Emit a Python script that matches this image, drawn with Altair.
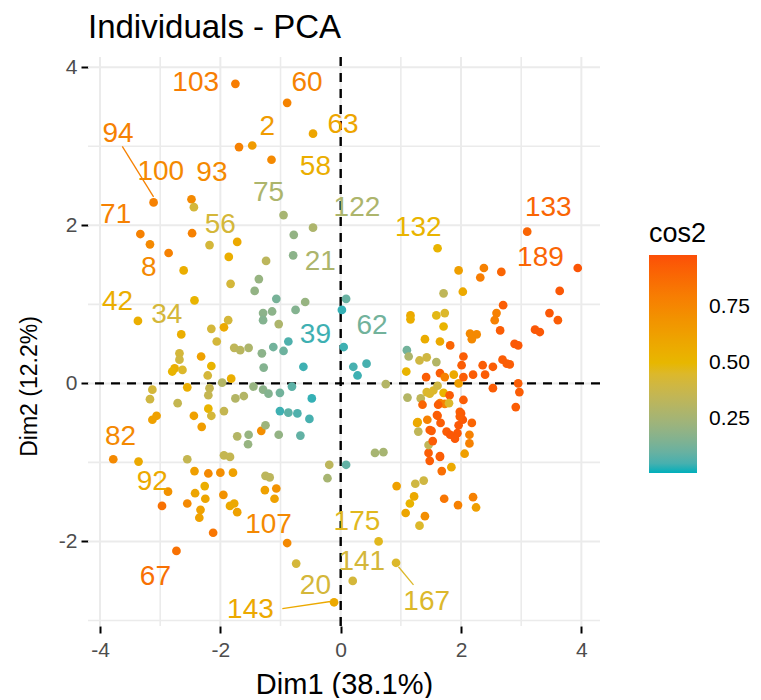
import altair as alt
import pandas as pd

# ---- individuals (Dim1, Dim2, cos2) ----
dim1 = [-1.75, -0.89, -0.46, -1.47, -1.69, -1.15, -3.11, -2.48, -2.44, -0.95, -0.46, -0.78,
        -3.33, -2.47, -1.72, -3.17, -2.18, -1.86, -2.86, -2.61, -1.24, -0.79, 1.61, 3.10,
        -1.36, -1.83, -1.43, -1.07, -0.59, -0.75, 0.09, 0.02, -3.37, -2.43, -1.29, -1.14,
        -1.29, -1.03, -1.87, -1.94, -2.15, -2.65, -0.87, -2.06, -1.77, -1.67, -1.53, -1.12,
        -0.95, -1.31, 0.05, -2.68, -2.68, -2.76, -2.80, -2.63, -2.32, -2.15, -2.21, -1.82,
        -1.28, -0.62, 0.21, 0.28, 0.43,
        -3.13, -3.17, -2.55, -2.18, -2.20, -1.97, -1.75, -1.61, -1.45, -1.29, -1.20, -1.01,
        -0.81, -0.48, -2.71, -3.06, -2.44, -2.20, -2.15, -1.94, -1.01, -0.87, -0.72, -0.52,
        -3.13, -2.31, -1.32, -1.25, -1.72, -1.53, -1.54, -1.03, -0.67, -3.78, -3.36, -2.55,
        -1.94, -1.84, -2.43, -2.20, -2.00, -1.79, -1.25, -1.18, -0.19, -0.22, 0.09, -2.87,
        -2.26, -2.42, -2.25, -1.95, -1.26, -1.07, -1.10, -2.97, -2.55, -2.33, -2.35, -1.84,
        -1.77, -1.72, -2.12, -0.89, -2.73, -0.74, -0.11, 0.63, 0.20, 0.92,
        0.57, 0.71, 0.93, 1.24, 1.38, 1.22, 1.15, 1.08, 1.40, 1.31, 1.72, 1.95, 2.20, 2.25,
        1.68, 1.84, 2.06, 1.48, 1.65, 1.46, 1.46, 1.53, 1.29, 1.27, 1.44, 1.51, 1.61, 1.66,
        1.76, 1.82, 1.90, 1.94, 1.96, 2.00, 2.03, 2.18, 2.14, 2.14, 2.91,
        3.94, 3.64, 3.47, 3.61, 3.23, 3.31, 2.89, 2.95, 2.70, 2.59, 2.56, 2.65, 2.67, 2.38,
        2.32, 1.96, 2.03, 1.71, 1.59, 1.73, 1.71, 1.16, 1.16, 2.15, 2.26, 2.18, 1.40, 1.65,
        1.82, 1.10, 1.13, 1.31, 1.43, 1.59, 2.04, 2.01, 2.36, 2.53, 2.69, 2.76, 2.81, 1.09,
        0.75, 1.42, 1.65, 1.73, 1.88, 1.96, 2.04, 2.20, 2.40, 2.53, 2.95, 2.97, 1.11, 1.33,
        1.43, 1.48, 1.54, 1.61, 1.71, 1.81, 2.04, 1.36, 1.65, 1.73, 1.80, 1.98, 1.98, 1.60,
        1.28, 1.62, 1.48, 1.65]
dim2 = [3.79, 3.55, 3.16, 3.01, 2.99, 2.83, 2.29, 2.33, 2.23, 2.13, 1.97, 1.88,
        1.89, 1.90, 1.79, 1.76, 1.75, 1.60, 1.65, 1.43, 1.55, 1.62, 1.71, 1.92,
        1.32, 1.26, 1.17, 1.07, 1.03, 0.93, 1.07, 0.93, 0.79, 1.05, 0.89, 0.91,
        0.80, 0.75, 0.80, 0.71, 0.69, 0.62, 0.53, 0.53, 0.45, 0.42, 0.45, 0.46,
        0.41, 0.38, 0.46, 0.38, 0.30, 0.19, 0.15, 0.17, 0.34, 0.22, 0.10, 0.06,
        0.20, 0.21, 0.21, 0.10, 0.25,
        -0.08, -0.20, -0.05, -0.06, -0.15, 0.01, -0.19, -0.16, -0.04, -0.08, -0.13, -0.12,
        -0.04, -0.19, -0.25, -0.41, -0.41, -0.32, -0.41, -0.35, -0.35, -0.37, -0.38, -0.45,
        -0.46, -0.55, -0.60, -0.53, -0.67, -0.65, -0.77, -0.65, -0.66, -0.96, -0.99, -0.96,
        -0.91, -0.93, -1.11, -1.14, -1.13, -1.13, -1.17, -1.19, -1.03, -1.20, -1.03, -1.37,
        -1.30, -1.39, -1.46, -1.41, -1.35, -1.33, -1.46, -1.55, -1.52, -1.60, -1.70, -1.55,
        -1.52, -1.63, -1.89, -2.02, -2.12, -2.28, -2.77, -2.00, -2.50, -2.27,
        -0.88, -0.87, -1.30, -1.27, -1.23, -1.43, -1.52, -1.64, -1.68, -1.80, -1.46, -1.54, -1.44, -1.57,
        -1.11, -1.06, -0.89, -0.98, -0.93, -0.88, -0.78, -0.73, -0.61, -0.50, -0.46, -0.60, -0.41, -0.50,
        -0.61, -0.65, -0.70, -0.63, -0.53, -0.38, -0.46, -0.50, -0.65, -0.76, -0.30,
        1.46, 1.17, 0.89, 0.80, 0.68, 0.65, 0.50, 0.48, 0.99, 0.89, 0.80, 0.67, 1.41, 1.46,
        1.34, 1.43, 1.16, 1.14, 0.86, 0.89, 0.72, 0.86, 0.81, 0.63, 0.62, 0.56, 0.56, 0.53,
        0.48, 0.42, 0.34, 0.29, 0.33, 0.27, 0.34, 0.23, 0.23, 0.21, 0.30, 0.25, 0.24, 0.15,
        -0.01, 0.08, 0.13, 0.08, 0.11, 0.00, 0.08, 0.11, 0.11, -0.06, 0.00, -0.11, -0.18, -0.19,
        -0.11, -0.13, -0.09, -0.03, -0.12, -0.15, -0.21, -0.27, -0.25, -0.26, -0.25, -0.36, -0.42, -0.40,
        -0.49, -0.27, -0.59, -0.92]
cos2 = [0.80, 0.77, 0.60, 0.65, 0.78, 0.74, 0.78, 0.74, 0.42, 0.26, 0.28, 0.20,
        0.78, 0.78, 0.58, 0.74, 0.42, 0.55, 0.78, 0.55, 0.33, 0.18, 0.52, 0.90,
        0.21, 0.42, 0.20, 0.13, 0.21, 0.16, 0.10, 0.03, 0.55, 0.52, 0.18, 0.18,
        0.16, 0.28, 0.42, 0.58, 0.42, 0.55, 0.06, 0.42, 0.34, 0.32, 0.28, 0.12,
        0.11, 0.18, 0.04, 0.42, 0.40, 0.55, 0.52, 0.45, 0.62, 0.52, 0.42, 0.55,
        0.16, 0.04, 0.05, 0.04, 0.05,
        0.42, 0.40, 0.55, 0.36, 0.36, 0.30, 0.30, 0.30, 0.21, 0.18, 0.16, 0.12,
        0.08, 0.03, 0.36, 0.62, 0.62, 0.52, 0.42, 0.36, 0.04, 0.08, 0.06, 0.05,
        0.62, 0.64, 0.72, 0.23, 0.30, 0.21, 0.21, 0.20, 0.09, 0.74, 0.58, 0.36,
        0.36, 0.36, 0.63, 0.74, 0.72, 0.62, 0.33, 0.33, 0.33, 0.26, 0.09, 0.70,
        0.55, 0.60, 0.60, 0.70, 0.62, 0.70, 0.62, 0.85, 0.74, 0.62, 0.62, 0.58,
        0.58, 0.62, 0.83, 0.74, 0.85, 0.42, 0.58, 0.47, 0.42, 0.45,
        0.26, 0.26, 0.62, 0.40, 0.40, 0.58, 0.52, 0.60, 0.72, 0.45, 0.83, 0.78, 0.78, 0.63,
        0.86, 0.58, 0.63, 0.93, 0.93, 0.93, 0.34, 0.93, 0.34, 0.58, 0.78, 0.93, 0.93, 0.93,
        0.93, 0.95, 0.95, 0.95, 0.95, 0.95, 0.95, 0.90, 0.78, 0.78, 0.93,
        0.96, 0.95, 0.95, 0.93, 0.95, 0.95, 0.95, 0.95, 0.93, 0.78, 0.78, 0.93, 0.90, 0.78,
        0.80, 0.63, 0.58, 0.34, 0.48, 0.45, 0.52, 0.58, 0.55, 0.74, 0.74, 0.74, 0.56, 0.58,
        0.90, 0.12, 0.28, 0.40, 0.40, 0.30, 0.93, 0.93, 0.93, 0.93, 0.93, 0.93, 0.93, 0.52,
        0.30, 0.93, 0.93, 0.78, 0.58, 0.63, 0.93, 0.93, 0.93, 0.93, 0.93, 0.93, 0.30, 0.34,
        0.45, 0.45, 0.45, 0.40, 0.52, 0.93, 0.93, 0.90, 0.78, 0.78, 0.45, 0.93, 0.93, 0.93,
        0.58, 0.93, 0.93, 0.93]

# ---- labelled individuals (text position, label, cos2) ----
lab_text = ["103", "60", "2", "63", "94", "100", "93", "58", "75", "122", "71", "56",
            "132", "133", "189", "8", "21", "42", "34", "39", "62", "82", "92", "107",
            "175", "67", "141", "20", "143", "167"]
lab_x = [-2.41, -0.56, -1.22, 0.04, -3.70, -2.99, -2.14, -0.42, -1.20, 0.27, -3.74, -2.00,
         1.29, 3.45, 3.32, -3.19, -0.34, -3.71, -2.89, -0.42, 0.52, -3.66, -3.13, -1.20,
         0.27, -3.08, 0.35, -0.42, -1.50, 1.43]
lab_y = [3.80, 3.80, 3.24, 3.27, 3.16, 2.67, 2.66, 2.74, 2.41, 2.22, 2.13, 2.00,
         1.96, 2.22, 1.59, 1.46, 1.54, 1.03, 0.87, 0.61, 0.73, -0.68, -1.25, -1.79,
         -1.75, -2.45, -2.26, -2.57, -2.87, -2.76]
lab_cos2 = [0.80, 0.77, 0.65, 0.60, 0.78, 0.74, 0.74, 0.55, 0.28, 0.28, 0.78, 0.42,
            0.52, 0.90, 0.90, 0.74, 0.28, 0.55, 0.42, 0.04, 0.12, 0.74, 0.58, 0.74,
            0.47, 0.85, 0.42, 0.42, 0.58, 0.45]

# ---- repel leader segments ----
seg_x = [-3.63, -0.97, 0.96]
seg_y = [3.00, -2.85, -2.32]
seg_x2 = [-3.11, -0.17, 1.21]
seg_y2 = [2.36, -2.76, -2.55]
seg_cos2 = [0.78, 0.58, 0.45]

# ---- axes / grid ----
x_major = [-4, -2, 0, 2, 4]
x_minor = [-3, -1, 1, 3]
y_major = [-2, 0, 2, 4]
y_minor = [-3, -1, 1, 3]
x_domain = [-4.2, 4.31]
y_domain = [-3.07, 4.13]

grad_cols = ["#00AFBB", "#E7B800", "#FC4E07"]
cos2_dom = [0.007, 0.495, 0.983]

FONT = "Liberation Sans"

pts = pd.DataFrame({"x": dim1, "y": dim2, "cos2": cos2})
labs = pd.DataFrame({"x": lab_x, "y": lab_y, "cos2": lab_cos2, "t": lab_text})
segs = pd.DataFrame({"x": seg_x, "y": seg_y, "x2": seg_x2, "y2": seg_y2, "cos2": seg_cos2})
gx_major = pd.DataFrame({"v": x_major})
gx_minor = pd.DataFrame({"v": x_minor})
gy_major = pd.DataFrame({"v": y_major})
gy_minor = pd.DataFrame({"v": y_minor})
zero = pd.DataFrame({"v": [0]})

xs = alt.Scale(domain=x_domain, nice=False, zero=False)
ys = alt.Scale(domain=y_domain, nice=False, zero=False)
cscale = alt.Scale(domain=cos2_dom, range=grad_cols, interpolate="lab")
legend = alt.Legend(
    type="gradient", title="cos2", orient="none", legendX=561, legendY=164,
    direction="vertical", gradientLength=218, gradientThickness=48,
    gradientStrokeWidth=0, values=[0.25, 0.5, 0.75], format=".2f",
    labelFont=FONT, labelFontSize=21, labelColor="#000000", labelOffset=12,
    titleFont=FONT, titleFontSize=27, titleFontWeight="normal",
    titleColor="#000000", titlePadding=7, labelOverlap=False,
)
color = alt.Color("cos2:Q", scale=cscale, legend=legend)
color_noleg = alt.Color("cos2:Q", scale=cscale, legend=None)

x_axis = alt.Axis(values=x_major, labelExpr="'' + datum.value", title="Dim1 (38.1%)",
                  grid=False, domain=False, tickColor="#000000", tickWidth=2, tickSize=7,
                  labelFont=FONT, labelFontSize=21, labelColor="#4D4D4D", labelPadding=6,
                  titleFont=FONT, titleFontSize=29, titleFontWeight="normal",
                  titleColor="#000000", titleY=58, titleBaseline="middle")
y_axis = alt.Axis(values=y_major, labelExpr="'' + datum.value", title="Dim2 (12.2%)",
                  grid=False, domain=False, tickColor="#000000", tickWidth=2, tickSize=7,
                  labelFont=FONT, labelFontSize=21, labelColor="#4D4D4D", labelPadding=4,
                  titleFont=FONT, titleFontSize=23, titleFontWeight="normal",
                  titleColor="#000000", titleX=-59, titleY=329, titleAngle=270,
                  titleAlign="center", titleBaseline="middle")

gxM = alt.Chart(gx_major).mark_rule(color="#EBEBEB", strokeWidth=2).encode(
    x=alt.X("v:Q", scale=xs, axis=x_axis))
gxm = alt.Chart(gx_minor).mark_rule(color="#EBEBEB", strokeWidth=1.6).encode(
    x=alt.X("v:Q", scale=xs))
gyM = alt.Chart(gy_major).mark_rule(color="#EBEBEB", strokeWidth=2).encode(
    y=alt.Y("v:Q", scale=ys, axis=y_axis))
gym = alt.Chart(gy_minor).mark_rule(color="#EBEBEB", strokeWidth=1.6).encode(
    y=alt.Y("v:Q", scale=ys))
zx = alt.Chart(zero).mark_rule(color="#000000", strokeWidth=2.4, strokeDash=[9, 7]).encode(
    x=alt.X("v:Q", scale=xs))
zy = alt.Chart(zero).mark_rule(color="#000000", strokeWidth=2.4, strokeDash=[9, 7]).encode(
    y=alt.Y("v:Q", scale=ys))

seg_layer = alt.Chart(segs).mark_rule(strokeWidth=1.3).encode(
    x=alt.X("x:Q", scale=xs), y=alt.Y("y:Q", scale=ys),
    x2="x2:Q", y2="y2:Q", color=color_noleg)
pt_layer = alt.Chart(pts).mark_circle(size=76, opacity=1).encode(
    x=alt.X("x:Q", scale=xs), y=alt.Y("y:Q", scale=ys), color=color)
txt_layer = alt.Chart(labs).mark_text(font=FONT, fontSize=28, align="center",
                                      baseline="middle").encode(
    x=alt.X("x:Q", scale=xs), y=alt.Y("y:Q", scale=ys), text="t:N", color=color_noleg)

chart = alt.layer(gxm, gym, gxM, gyM, zx, zy, seg_layer, pt_layer, txt_layer).resolve_scale(
    color="independent"
).properties(
    width=512, height=569,
    title=alt.TitleParams("Individuals - PCA", anchor="start", frame="group", font=FONT,
                          fontSize=33, fontWeight="normal", color="#000000", offset=11),
    autosize=alt.AutoSizeParams(type="none"),
    padding={"left": 80, "top": 49, "right": 153, "bottom": 72},
).configure_view(stroke=None)

chart.save("out.html", embed_options={"renderer": "svg", "actions": False})
